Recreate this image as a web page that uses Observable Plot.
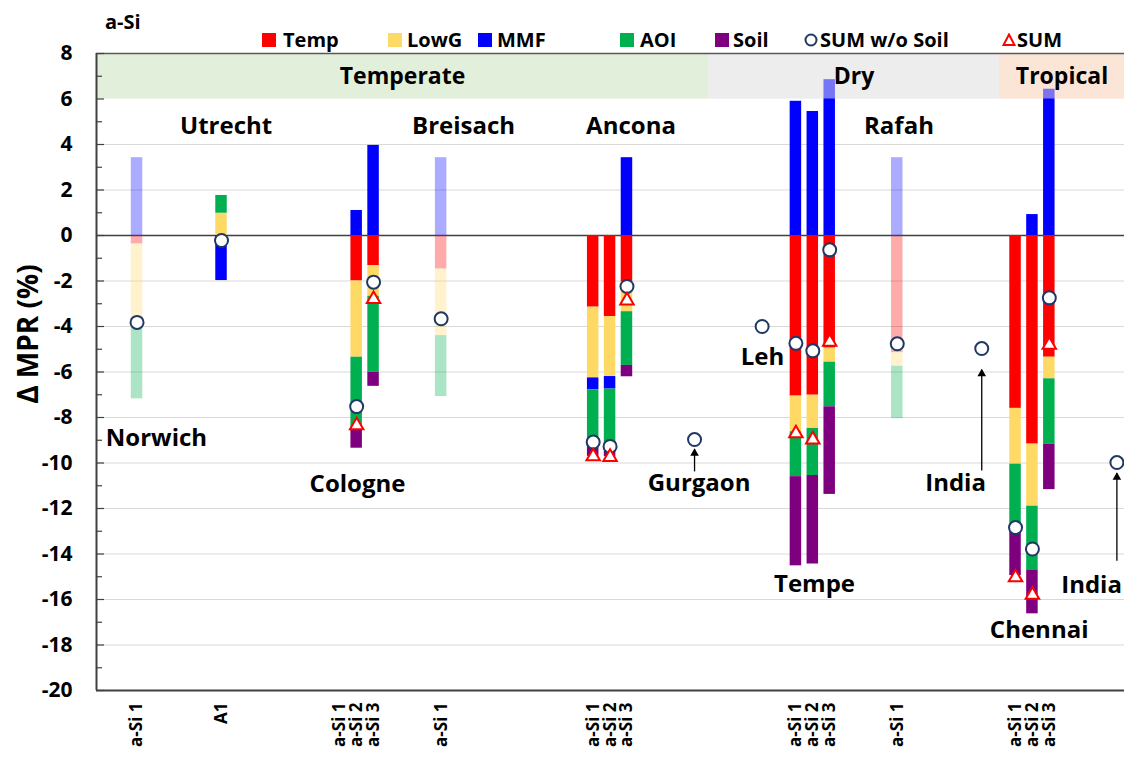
<!DOCTYPE html>
<html><head><meta charset="utf-8">
<script src="https://cdn.jsdelivr.net/npm/d3@7"></script>
<script src="https://cdn.jsdelivr.net/npm/@observablehq/plot@0.6"></script>
<style>
body{margin:0;background:#fff;}
#wrap{position:relative;width:1124px;height:765px;font-family:"Open Sans",sans-serif;font-weight:bold;color:#000;overflow:hidden;}
#chart{position:absolute;left:0;top:0;}
#legend span{position:absolute;line-height:20px;font-size:20px;white-space:nowrap;}
#ylab{position:absolute;left:27px;top:334px;transform:translate(-50%,-50%) rotate(-90deg);font-size:28px;white-space:nowrap;}
</style></head><body>
<div id="wrap"><div id="chart"></div><div id="legend"></div><div id="ylab">Δ MPR (%)</div></div>
<script>
// ---- series ----
const series = ["Temp", "LowG", "MMF", "AOI", "Soil"];
const seriesColors = ["#ff0000", "#ffd966", "#0000ff", "#00b050", "#7f007f"];

// ---- columns (x slots) ----
const columnSlot  = [0, 5, 12, 13, 14, 18, 27, 28, 29, 33, 37, 39, 40, 41, 45, 50, 52, 53, 54, 58];
const columnLabel = ["a-Si 1", "A1", "a-Si 1", "a-Si 2", "a-Si 3", "a-Si 1", "a-Si 1", "a-Si 2", "a-Si 3", "", "", "a-Si 1", "a-Si 2", "a-Si 3", "a-Si 1", "", "a-Si 1", "a-Si 2", "a-Si 3", ""];
const columnFaded = [true, false, false, false, false, true, false, false, false, false, false, false, false, false, true, false, false, false, false, false];

// ---- values (Δ MPR %) ----
const temp = [-0.37, 0, null, -2.0, -1.32, -1.47, -3.15, -3.56, -2.05, null, null, -7.06, -7.02, -4.95, -5.15, null, -7.6, -9.17, -5.35, null];
const lowG = [-3.44, 0.98, null, -3.35, -1.35, -2.93, -3.11, -2.64, -1.30, null, null, -1.57, -1.46, -0.62, -0.6, null, -2.45, -2.73, -0.95, null];
const mmf  = [3.42, -1.98, null, 1.1, 3.96, 3.42, -0.52, -0.55, 3.42, null, null, 5.9, 5.45, 6.85, 3.42, null, 0, 0.92, 6.43, null];
const aoi  = [-3.37, 0.78, null, -3.2, -3.34, -2.68, -2.3, -2.5, -2.36, null, null, -1.97, -2.07, -1.96, -2.3, null, -2.85, -2.8, -2.87, null];
const soil = [0, 0, null, -0.8, -0.62, 0, -0.63, -0.47, -0.5, null, null, -3.92, -3.89, -3.85, 0, null, -2.05, -1.93, -2.0, null];
const sumNoSoil = [-3.82, -0.22, null, -7.52, -2.05, -3.66, -9.08, -9.27, -2.24, -8.97, -4.0, -4.74, -5.07, -0.63, -4.76, -4.97, -12.84, -13.78, -2.74, -9.98];
const sumAll    = [null, null, null, -8.35, -2.8, null, -9.71, -9.74, -2.86, null, null, -8.7, -8.97, -4.68, null, null, -15.03, -15.8, -4.81, null];

// ---- climate zones ----
const climateNames  = ["Temperate", "Dry", "Tropical"];
const climateFrom   = [-2.4, 33.83, 51.05];
const climateTo     = [33.83, 51.05, 58.45];
const climateColors = ["#e2efda", "#ededed", "#fbe5d6"];
const climateBottom = 6, climateTop = 8;

// ---- site labels ----
const siteNames = ["Norwich", "Utrecht", "Cologne", "Breisach", "Ancona", "Gurgaon", "Leh", "Tempe", "Rafah", "India", "Chennai", "India"];
const siteX     = [1.15, 5.27, 13.05, 19.33, 29.24, 33.27, 37.02, 40.1, 45.1, 48.45, 53.4, 56.5];
const siteY     = [-8.92, 4.79, -10.95, 4.79, 4.79, -10.9, -5.36, -15.34, 4.79, -10.9, -17.36, -15.38];

// ---- arrows (label -> point) ----
const arrowX    = [33, 50, 58];
const arrowFrom = [-10.37, -10.33, -14.3];
const arrowTo   = [-9.4, -5.9, -10.45];

// ---- axis ticks ----
const yTicks = d3.range(-20, 9, 2);
const yMinor = d3.range(-19, 8, 2);

// build stacked segments (positive and negative stacked separately, in series order)
const cols = columnSlot.map((s, i) => ({slot: s, label: columnLabel[i], faded: columnFaded[i],
  vals: [temp[i], lowG[i], mmf[i], aoi[i], soil[i]], sumNoSoil: sumNoSoil[i], sum: sumAll[i]}));
const segs = [];
for (const c of cols) {
  let pos = 0, neg = 0;
  c.vals.forEach((v, k) => {
    if (v == null || v === 0) return;
    let y1, y2;
    if (v > 0) { y1 = pos; y2 = pos + v; pos = y2; } else { y1 = neg; y2 = neg + v; neg = y2; }
    segs.push({slot: c.slot, series: series[k], y1, y2, faded: c.faded});
  });
}
const labelBySlot = new Map(cols.filter(c => c.label).map(c => [c.slot, c.label]));
const climate = climateNames.map((n, i) => ({name: n, from: climateFrom[i], to: climateTo[i], color: climateColors[i]}));
const sites = siteNames.map((n, i) => ({name: n, x: siteX[i], y: siteY[i]}));
const arrows = arrowX.map((x, i) => ({x, from: arrowFrom[i], to: arrowTo[i]}));
const halfW = 0.34;
const xDomain = [-2.4, 58.45];

const bandMarks = (opacity) => climate.map(c => Plot.rect([c], {x1: "from", x2: "to", y1: () => climateBottom, y2: () => climateTop, fill: c.color, fillOpacity: opacity}));

const chart = Plot.plot({
  width: 1124, height: 765,
  marginTop: 53, marginBottom: 75, marginLeft: 96, marginRight: 0,
  style: {fontFamily: "Open Sans", fontWeight: "bold", color: "black", background: "white", overflow: "visible"},
  x: {domain: xDomain},
  y: {domain: [-20, 8]},
  color: {domain: series, range: seriesColors},
  marks: [
    ...bandMarks(1),
    Plot.ruleY(d3.range(-18, 6, 2).filter(v => v !== 0), {stroke: "#d9d9d9", strokeWidth: 1}),
    Plot.ruleY([0], {stroke: "#404040", strokeWidth: 1.5}),
    Plot.rectY(segs, {x1: d => d.slot - halfW, x2: d => d.slot + halfW, y1: "y1", y2: "y2", fill: "series", fillOpacity: d => d.faded ? 0.33 : 1}),
    ...bandMarks(0.5),
    Plot.text(climate, {x: d => (d.from + d.to) / 2, y: () => (climateBottom + climateTop) / 2, text: "name", fontSize: 23, fontWeight: "bold", fill: "black"}),
    Plot.ruleY([climateTop], {stroke: "#595959", strokeWidth: 1.5}),
    Plot.ruleY([-20], {stroke: "#404040", strokeWidth: 2}),
    Plot.ruleX([xDomain[0]], {stroke: "#404040", strokeWidth: 2}),
    Plot.ruleY(yTicks, {stroke: "#404040", strokeWidth: 1.2, insetRight: 1028 - 8}),
    Plot.ruleY(yMinor, {stroke: "#404040", strokeWidth: 1.2, insetRight: 1028 - 6}),
    Plot.link(arrows, {x1: "x", x2: "x", y1: "from", y2: "to", stroke: "black", strokeWidth: 1.3}),
    Plot.dot(arrows, {x: "x", y: "to", symbol: "triangle", r: 3.2, fill: "black", dy: 4}),
    Plot.dot(cols.filter(c => c.sumNoSoil != null), {x: "slot", y: "sumNoSoil", r: 6.5, stroke: "#203864", strokeWidth: 2, fill: "white"}),
    Plot.dot(cols.filter(c => c.sum != null), {x: "slot", y: "sum", symbol: "triangle", r: 5, stroke: "#ff0000", strokeWidth: 2, fill: "white"}),
    Plot.text(sites, {x: "x", y: "y", text: "name", fontSize: 24, fontWeight: "bold", fill: "black"}),
    Plot.axisY({ticks: yTicks, tickFormat: d => String(d), tickSize: 0, tickPadding: 24, fontSize: 21, label: null}),
    Plot.axisX({ticks: [...labelBySlot.keys()], tickFormat: s => labelBySlot.get(s), tickRotate: -90, tickSize: 0, tickPadding: 12, fontSize: 17, label: null})
  ]
});
document.getElementById("chart").appendChild(chart);

// ---- legend (HTML above the plot area) ----
const legendSymbol = ["square", "square", "square", "square", "square", "circle", "triangle"];
const legendNames = [...series, "SUM w/o Soil", "SUM"];
const legendSymLeft = [262, 388, 478, 620, 715, 804, 1002];
const legendTextLeft = [283, 407, 497, 640, 733, 820, 1017];
const legend = document.getElementById("legend");
const title = document.createElement("span");
title.textContent = "a-Si"; title.style.left = "105px"; title.style.top = "12px";
legend.appendChild(title);
legendNames.forEach((n, i) => {
  const sym = document.createElement("span");
  sym.style.left = legendSymLeft[i] + "px"; sym.style.top = "33px"; sym.style.lineHeight = "0";
  let svg;
  if (legendSymbol[i] === "square") svg = `<svg width="14" height="14"><rect width="14" height="14" fill="${seriesColors[i]}"/></svg>`;
  else if (legendSymbol[i] === "circle") svg = `<svg width="14" height="14"><circle cx="7" cy="7" r="5.5" fill="white" stroke="#203864" stroke-width="2"/></svg>`;
  else svg = `<svg width="14" height="14"><path d="M7,1.5L12.5,12H1.5Z" fill="white" stroke="#ff0000" stroke-width="2"/></svg>`;
  sym.innerHTML = svg;
  legend.appendChild(sym);
  const t = document.createElement("span");
  t.textContent = n; t.style.left = legendTextLeft[i] + "px"; t.style.top = "30px";
  legend.appendChild(t);
});
</script>
</body></html>
